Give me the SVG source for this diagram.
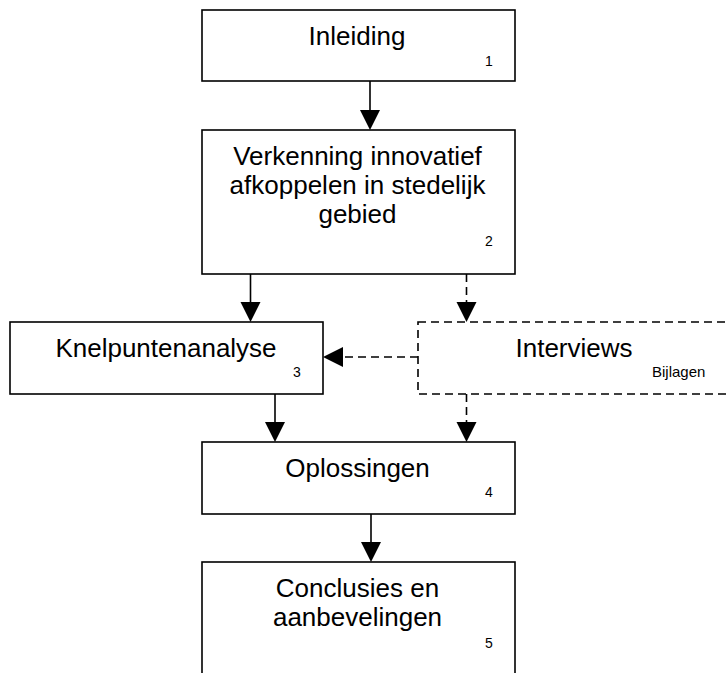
<svg xmlns="http://www.w3.org/2000/svg" width="726" height="673" viewBox="0 0 726 673">
<style>
.box{fill:#fff;stroke:#000;stroke-width:1.6}
.dbox{fill:#fff;stroke:#000;stroke-width:1.6;stroke-dasharray:8 5}
.t{font-family:"Liberation Sans",Arial,sans-serif;font-size:26px;fill:#000;text-anchor:middle}
.n{font-family:"Liberation Sans",Arial,sans-serif;font-size:14px;fill:#000}
.s{font-family:"Liberation Sans",Arial,sans-serif;font-size:15px;fill:#000}
.c{stroke:#000;stroke-width:1.6;fill:none}
.d{stroke:#000;stroke-width:1.6;fill:none;stroke-dasharray:8 5}
</style>
<defs>
<marker id="ah" markerUnits="userSpaceOnUse" markerWidth="21" markerHeight="21" refX="0" refY="10" orient="auto" viewBox="0 0 21 21">
<path d="M0,0 L20,10 L0,20 z" fill="#000"/>
</marker>
</defs>
<rect width="726" height="673" fill="#fff"/>
<g id="connectors">
<line class="c" x1="370" y1="81" x2="370" y2="110" marker-end="url(#ah)"/>
<line class="c" x1="250.5" y1="274" x2="250.5" y2="302" marker-end="url(#ah)"/>
<line class="d" x1="466.5" y1="274" x2="466.5" y2="302" marker-end="url(#ah)"/>
<line class="d" x1="418" y1="357" x2="343" y2="357" marker-end="url(#ah)"/>
<line class="c" x1="275" y1="394" x2="275" y2="422" marker-end="url(#ah)"/>
<line class="d" x1="466.5" y1="394" x2="466.5" y2="422" marker-end="url(#ah)"/>
<line class="c" x1="371" y1="514" x2="371" y2="542" marker-end="url(#ah)"/>
</g>
<g id="n1">
<rect class="box" x="202" y="10" width="313" height="71"/>
<text class="t" x="357" y="45">Inleiding</text>
<text class="n" x="485" y="66">1</text>
</g>
<g id="n2">
<rect class="box" x="202" y="130" width="313" height="144"/>
<text class="t" x="357.5" y="165">Verkenning innovatief</text>
<text class="t" x="357.5" y="194">afkoppelen in stedelijk</text>
<text class="t" x="357.5" y="223">gebied</text>
<text class="n" x="485" y="246">2</text>
</g>
<g id="n3">
<rect class="box" x="10" y="322" width="313" height="72"/>
<text class="t" x="166" y="357">Knelpuntenanalyse</text>
<text class="n" x="293" y="377">3</text>
</g>
<g id="interviews">
<rect class="dbox" x="418" y="322" width="313" height="72"/>
<text class="t" x="574" y="357">Interviews</text>
<text class="s" x="652" y="377">Bijlagen</text>
</g>
<g id="n4">
<rect class="box" x="202" y="442" width="313" height="72"/>
<text class="t" x="357.5" y="477">Oplossingen</text>
<text class="n" x="485" y="497">4</text>
</g>
<g id="n5">
<rect class="box" x="202" y="562" width="313" height="118"/>
<text class="t" x="357.5" y="597">Conclusies en</text>
<text class="t" x="357.5" y="626">aanbevelingen</text>
<text class="n" x="485" y="648">5</text>
</g>
</svg>
